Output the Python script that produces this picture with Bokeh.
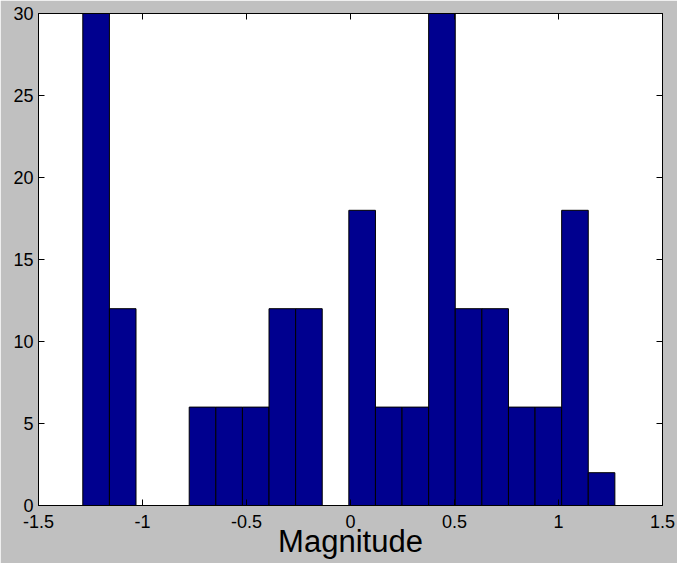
import numpy as np
from bokeh.plotting import figure
from bokeh.models import LinearAxis, FixedTicker, ColumnDataSource
from bokeh.embed import file_html
from bokeh.resources import INLINE

# Histogram counts per bin (20 equal-width bins between the data min and max)
counts = [30, 12, 0, 0, 6, 6, 6, 12, 12, 0, 18, 6, 6, 30, 12, 12, 6, 6, 18, 2]
bin_lo = -1.287
bin_hi = 1.271

x_ticks = [-1.5, -1, -0.5, 0, 0.5, 1, 1.5]
x_tick_labels = ["-1.5", "-1", "-0.5", "0", "0.5", "1", "1.5"]
y_ticks = [0, 5, 10, 15, 20, 25, 30]
y_tick_labels = ["0", "5", "10", "15", "20", "25", "30"]
x_label = "Magnitude"

edges = np.linspace(bin_lo, bin_hi, len(counts) + 1)
src = ColumnDataSource(dict(left=edges[:-1], right=edges[1:],
                            top=counts, bottom=[0] * len(counts)))

FONT = "Liberation Sans"

p = figure(width=677, height=563, x_range=(-1.5, 1.5), y_range=(0, 30),
           output_backend="svg", toolbar_location=None,
           min_border_left=38, min_border_right=15,
           min_border_top=13, min_border_bottom=58)
p.background_fill_color = "white"
p.border_fill_color = "#c0c0c0"
p.outline_line_color = "black"
p.xgrid.visible = False
p.ygrid.visible = False

p.quad(left="left", right="right", top="top", bottom="bottom", source=src,
       fill_color="#00008f", line_color="black", line_width=1)

def style_axis(ax, ticks, labels, show_labels):
    ax.ticker = FixedTicker(ticks=ticks)
    ax.major_label_overrides = {t: l for t, l in zip(ticks, labels)}
    ax.major_tick_in = 6
    ax.major_tick_out = 0
    ax.minor_tick_in = 0
    ax.minor_tick_out = 0
    ax.axis_line_color = "black"
    ax.major_tick_line_color = "black"
    ax.major_label_text_font = FONT
    ax.major_label_text_color = "black"
    if show_labels:
        ax.major_label_text_font_size = "18px"
    else:
        ax.major_label_text_font_size = "0px"
        ax.major_label_text_color = None
        ax.major_label_standoff = 0

xa = p.xaxis[0]
style_axis(xa, x_ticks, x_tick_labels, True)
xa.major_label_standoff = 9
xa.axis_label = x_label
xa.axis_label_text_font = FONT
xa.axis_label_text_font_size = "31px"
xa.axis_label_text_font_style = "normal"
xa.axis_label_text_color = "black"
xa.axis_label_standoff = -7

ya = p.yaxis[0]
style_axis(ya, y_ticks, y_tick_labels, True)
ya.major_label_standoff = 5

top_ax = LinearAxis()
style_axis(top_ax, x_ticks, x_tick_labels, False)
p.add_layout(top_ax, "above")

right_ax = LinearAxis()
style_axis(right_ax, y_ticks, y_tick_labels, False)
p.add_layout(right_ax, "right")

open("out.html", "w").write(file_html(p, INLINE))
